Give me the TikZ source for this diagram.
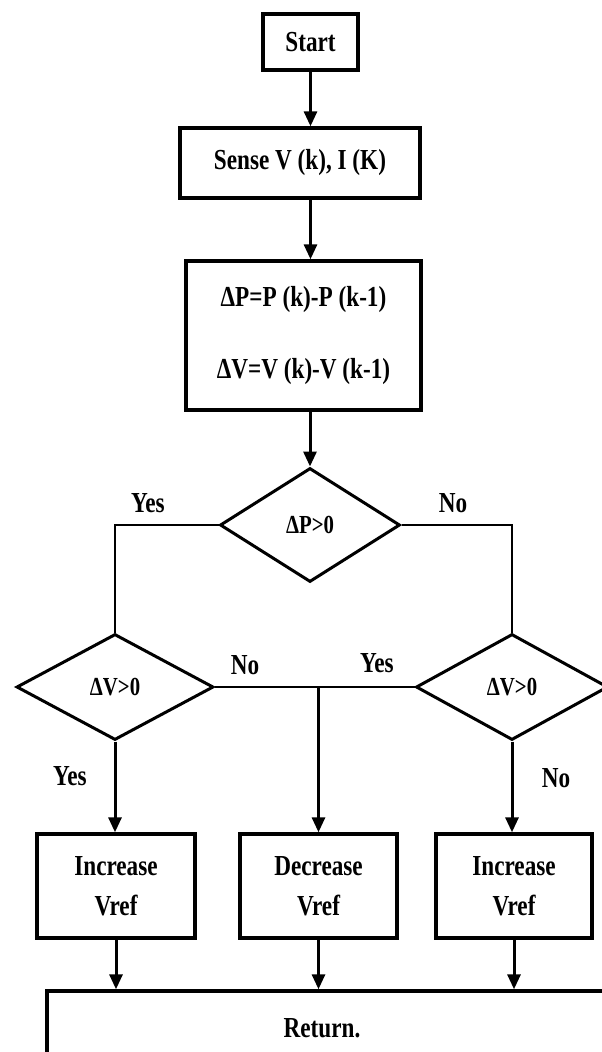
\documentclass[tikz,border=0pt]{standalone}
\usepackage{fontspec}
\setmainfont{Liberation Serif}[FakeStretch=0.8]
\usetikzlibrary{shapes.geometric,arrows.meta}
\tikzset{
  procbox/.style={draw,line width=3.4pt,rectangle,inner sep=0pt,align=center,
    font=\fontsize{29}{40}\selectfont\bfseries},
  decision/.style={draw,line width=3pt,diamond,inner sep=0pt,
    font=\fontsize{26}{28}\selectfont\bfseries},
  flow/.style={line width=3pt,-{Triangle[length=15pt,width=13pt]}},
  link/.style={line width=2.8pt},
  answer/.style={font=\fontsize{29}{30}\selectfont\bfseries,inner sep=0pt}
}
\begin{document}
\begin{tikzpicture}[x=1pt,y=-1pt]
  \clip (0,0) rectangle (602,1052);
  \fill[white] (0,0) rectangle (602,1052);

  % process boxes
  \node[procbox,minimum width=95pt,minimum height=56pt] (start) at (310.5,42) {Start};
  \node[procbox,minimum width=240pt,minimum height=70pt] (sense) at (300,163) {Sense V (k), I (K)};
  \node[procbox,minimum width=235pt,minimum height=149pt,
        font=\fontsize{29}{72}\selectfont\bfseries] (calc) at (303.5,335.5)
    {ΔP=P (k)-P (k-1)\\ ΔV=V (k)-V (k-1)};

  % decisions
  \node[decision,minimum width=180pt,minimum height=114pt] (d1) at (310,525) {ΔP>0};
  \node[decision,minimum width=197pt,minimum height=106pt] (d2) at (115,687) {ΔV>0};
  \node[decision,minimum width=192pt,minimum height=106pt] (d3) at (512,687) {ΔV>0};

  % reference voltage actions
  \node[procbox,minimum width=158pt,minimum height=104pt] (inc1) at (116,886) {Increase\\Vref};
  \node[procbox,minimum width=157pt,minimum height=104pt] (dec) at (318.5,886) {Decrease\\Vref};
  \node[procbox,minimum width=156pt,minimum height=104pt] (inc2) at (514,886) {Increase\\Vref};

  % final block (runs off the lower and right edges)
  \node[draw,line width=3.4pt,rectangle,minimum width=600pt,minimum height=120pt] (ret) at (347,1051) {};
  \node[answer] (rettext) at (322,1028) {Return.};

  % main sequence
  \draw[flow] (start.south) -- (start.south |- sense.north);
  \draw[flow] (start.south |- sense.south) -- (start.south |- calc.north);
  \draw[flow] (d1.north |- calc.south) -- (d1.north);

  % branches of the first decision
  \draw[link] (d1.west) -| (d2.north);
  \draw[link] (d1.east) -| (d3.north);
  \node[answer] (y1) at (148,503) {Yes};
  \node[answer] (n1) at (453,503) {No};

  % joining line between the second-level decisions
  \draw[link] (d2.east) -- (d3.west);
  \coordinate (mid) at (dec.north |- d2.east);
  \draw[flow] (mid) -- (dec.north);
  \node[answer] (n2) at (245,665) {No};
  \node[answer] (y2) at (377,663) {Yes};

  \draw[flow] (d2.south) -- (d2.south |- inc1.north);
  \draw[flow] (d3.south) -- (d3.south |- inc2.north);
  \node[answer] (y3) at (70,776) {Yes};
  \node[answer] (n3) at (556,778) {No};

  % into the final block
  \draw[flow] (inc1.south) -- (inc1.south |- ret.north);
  \draw[flow] (dec.south) -- (dec.south |- ret.north);
  \draw[flow] (inc2.south) -- (inc2.south |- ret.north);
\end{tikzpicture}
\end{document}
